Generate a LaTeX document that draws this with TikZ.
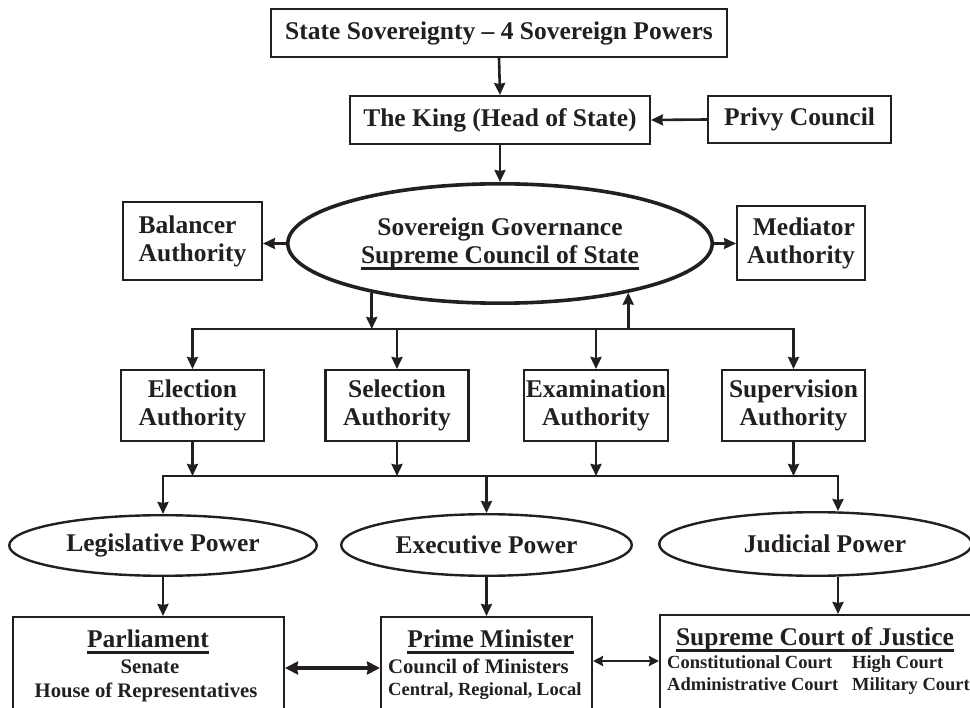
\documentclass[tikz,border=0pt]{standalone}
\usepackage{fontspec}
\setmainfont{Liberation Serif}
\usetikzlibrary{shapes.geometric, arrows.meta, positioning}
\definecolor{ink}{RGB}{35,31,32}
\newcommand{\thickul}[1]{{\setbox0\hbox{#1}\rlap{\rule[-6.5pt]{\wd0}{2.8pt}}\box0}}
\tikzstyle{bigtext} = [font=\bfseries\fontsize{25.5}{28}\selectfont, text=ink]
\tikzstyle{midtext} = [font=\bfseries\fontsize{20.7}{24}\selectfont, text=ink, inner sep=0pt]
\tikzstyle{smalltext} = [font=\bfseries\fontsize{18.5}{22}\selectfont, text=ink, inner sep=0pt]
\tikzstyle{box} = [rectangle, draw=ink, line width=2.4pt, bigtext, align=center, inner sep=2pt]
\tikzstyle{authority} = [box, minimum width=143pt, minimum height=70.6pt]
\tikzstyle{lowbox} = [rectangle, draw=ink, line width=2.4pt, minimum height=101.6pt, anchor=north]
\tikzstyle{power} = [ellipse, draw=ink, line width=2.4pt, bigtext, inner sep=0pt]
\tikzstyle{council} = [ellipse, draw=ink, line width=3.6pt, bigtext, align=center, minimum width=424.4pt, minimum height=119.4pt]
\tikzstyle{arrow} = [draw=ink, line width=2.6pt, ->, >={Stealth[length=12pt,width=11pt,inset=1pt]}]
\tikzstyle{dblarrow} = [draw=ink, line width=3.2pt, <->, >={Stealth[length=13pt,width=13pt,inset=1pt]}]
\tikzstyle{thinarrow} = [draw=ink, line width=2.4pt, <->, >={Stealth[length=10pt,width=10pt,inset=1pt]}]

\begin{document}
\begin{tikzpicture}[x=1pt, y=-1pt]
        \useasboundingbox (0,0) rectangle (970,708);
        \clip (0,0) rectangle (970,708);
        % top of the chart
        \node[box, minimum width=455.6pt, minimum height=47.6pt] (sov) at (499,33) {State Sovereignty – 4 Sovereign Powers};
        \node[box, minimum width=299.6pt, minimum height=47.6pt] (king) at (500,120) {The King (Head of State)};
        \node[box, minimum width=182.6pt, minimum height=46.6pt] (privy) at (799.5,119.5) {Privy Council};
        \node[council] (gov) at (500,243.5) {Sovereign Governance\\\thickul{Supreme Council of State}};
        \node[box, align=left, minimum width=138.6pt, minimum height=77.6pt] (bal) at (192.5,241) {Balancer\\Authority};
        \node[box, align=right, minimum width=127.6pt, minimum height=73.6pt] (med) at (801,243) {Mediator\\Authority};
        % four authorities
        \node[authority] (elec) at (192.5,405.5) {Election\\Authority};
        \node[authority] (sel) at (397,405.5) {Selection\\Authority};
        \node[authority] (exam) at (596,405.5) {Examination\\Authority};
        \node[authority] (superv) at (793.5,405.5) {Supervision\\Authority};
        % three powers
        \node[power, minimum width=307.6pt, minimum height=60.6pt] (leg) at (163,545.5) {Legislative Power};
        \node[power, minimum width=290.6pt, minimum height=61.6pt] (exec) at (486.5,545) {Executive Power};
        \node[power, minimum width=312.6pt, minimum height=63.6pt] (jud) at (815.5,544) {\hspace*{19pt}Judicial Power};
        % bottom boxes
        \node[lowbox, minimum width=270.6pt] (parl) at (148.5,616) {};
        \node[lowbox, minimum width=210.6pt] (prime) at (486.5,616) {};
        \node[lowbox, minimum width=338.6pt] (court) at (829.5,614) {};
        \node[bigtext, inner sep=0pt, anchor=base] (parlhead) at (148,647) {\thickul{Parliament}};
        \node[midtext, anchor=base] (parlsenate) at (150,673) {Senate};
        \node[midtext, anchor=base] (parlhouse) at (146,697) {House of Representatives};
        \node[bigtext, inner sep=0pt, anchor=base] (pmhead) at (490.5,647) {\thickul{Prime Minister}};
        \node[midtext, anchor=base west] (pmcouncil) at (388,673) {Council of Ministers};
        \node[smalltext, anchor=base west] (pmlevels) at (388,695) {Central, Regional, Local};
        \node[bigtext, inner sep=0pt, anchor=base] (courthead) at (815,645) {\thickul{Supreme Court of Justice}};
        \node[smalltext, anchor=base west] (courtconst) at (667,668) {Constitutional Court};
        \node[smalltext, anchor=base west] (courthigh) at (852,668) {High Court};
        \node[smalltext, anchor=base west] (courtadmin) at (667,690) {Administrative Court};
        \node[smalltext, anchor=base west] (courtmil) at (852,690) {Military Court};
        \coordinate (busup) at (500,329);
        \coordinate (busdown) at (500,476);
        \coordinate (juddrop) at (838,476);
        % connectors
        \draw[arrow] (sov.south) -- (king.north);
        \draw[arrow] (privy.west) -- (king.east);
        \draw[arrow] (king.south) -- (gov.north);
        \draw[arrow] (gov.west) -- (gov.west -| bal.east);
        \draw[arrow] (gov.east) -- (gov.east -| med.west);
        \draw[arrow] (gov.201) -- (gov.201 |- busup);
        \draw[arrow] (gov.339 |- busup) -- (gov.339);
        \draw[arrow] (busup -| sel.north) -| (elec.north);
        \draw[arrow] (busup -| sel.north) -| (superv.north);
        \draw[arrow] (busup -| sel.north) -- (sel.north);
        \draw[arrow] (busup -| exam.north) -- (exam.north);
        \foreach \n in {elec,sel,exam,superv}
            \draw[arrow] (\n.south) -- (\n.south |- busdown);
        \draw[arrow] (busdown -| exec.north) -| (leg.north);
        \draw[arrow] (busdown -| exec.north) -| (juddrop |- jud.north);
        \draw[arrow] (busdown -| exec.north) -- (exec.north);
        \draw[arrow] (leg.south) -- (leg.south |- parl.north);
        \draw[arrow] (exec.south) -- (exec.south |- prime.north);
        \draw[arrow] (juddrop |- jud.south) -- (juddrop |- court.north);
        \draw[dblarrow] (parl.east) -- (prime.west);
        \draw[thinarrow] ([yshift=7pt]prime.east) -- ([yshift=7pt]prime.east -| court.west);
    \end{tikzpicture}
\end{document}
